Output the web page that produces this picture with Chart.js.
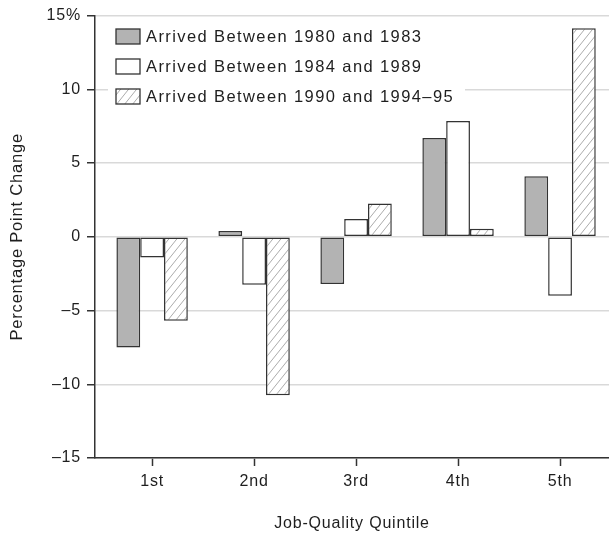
<!DOCTYPE html>
<html>
<head>
<meta charset="utf-8">
<script src="https://cdn.jsdelivr.net/npm/chart.js@4"></script>
<style>
  html, body { margin: 0; padding: 0; background: #fff; overflow: hidden; }
  #wrap { width: 609px; height: 536px; }
</style>
</head>
<body>
<div id="wrap"><canvas id="myChart" width="609" height="536"></canvas></div>
<script>
const categories = ['1st', '2nd', '3rd', '4th', '5th'];
const seriesNames = [
    'Arrived Between 1980 and 1983',
    'Arrived Between 1984 and 1989',
    'Arrived Between 1990 and 1994\u201395'
];
const arrived8083 = [-7.5, 0.4, -3.2, 6.7, 4.1];
const arrived8489 = [-1.4, -3.25, 1.2, 7.85, -4.0];
const arrived9095 = [-5.7, -10.75, 2.25, 0.55, 14.15];
const yTicks = [-15, -10, -5, 0, 5, 10, 15];

const FONT = '"Liberation Sans", Arial, sans-serif';
const INK = '#1e1e1e';
const SPACING = '0.8px';

// hatch pattern for the third series (steep "/" lines)
function makeHatch() {
    const w = 8, h = 10;
    const c = document.createElement('canvas');
    c.width = w; c.height = h;
    const g = c.getContext('2d');
    g.fillStyle = '#fff';
    g.fillRect(0, 0, w, h);
    g.strokeStyle = '#ababab';
    g.lineWidth = 1;
    g.beginPath();
    for (let k = -1; k <= 1; k++) {
        g.moveTo(k * w - 0.5 * w, h + 0.5 * h);
        g.lineTo(k * w + 1.5 * w, -0.5 * h);
    }
    g.stroke();
    return g.createPattern(c, 'repeat');
}

function points(arr) {
    return arr.map((v, i) => ({ x: i, y: v }));
}

const fills = ['#b3b3b3', '#ffffff', null];

// wider tracking like the original typeface
const tracking = {
    id: 'tracking',
    beforeLayout(chart) { chart.ctx.letterSpacing = SPACING; },
    beforeDraw(chart) { chart.ctx.letterSpacing = SPACING; }
};

const legendInside = {
    id: 'legendInside',
    afterDraw(chart) {
        const ctx = chart.ctx;
        ctx.save();
        ctx.fillStyle = '#fff';
        ctx.fillRect(108, 18, 357, 94);
        ctx.font = '16.5px ' + FONT;
        ctx.letterSpacing = '1.4px';
        ctx.textBaseline = 'middle';
        chart.data.datasets.forEach((ds, i) => {
            const y = 29 + i * 30;
            ctx.fillStyle = ds.backgroundColor;
            ctx.fillRect(116, y, 24, 15);
            ctx.strokeStyle = '#333';
            ctx.lineWidth = 1.3;
            ctx.strokeRect(116, y, 24, 15);
            ctx.fillStyle = INK;
            ctx.fillText(ds.label, 146, y + 8);
        });
        ctx.restore();
    }
};

document.addEventListener('DOMContentLoaded', function () {
    const ctx = document.getElementById('myChart');
    fills[2] = makeHatch();
    const seriesData = [arrived8083, arrived8489, arrived9095];

    new Chart(ctx, {
        type: 'bar',
        data: {
            datasets: seriesData.map((arr, i) => ({
                label: seriesNames[i],
                data: points(arr),
                backgroundColor: fills[i],
                borderColor: '#333',
                borderWidth: 1.5,
                borderSkipped: false,
                categoryPercentage: 0.7,
                barPercentage: 1.0
            }))
        },
        options: {
            responsive: false,
            animation: false,
            layout: { padding: { top: 15, right: 0, left: 0, bottom: 0 } },
            plugins: {
                legend: { display: false },
                tooltip: { enabled: false }
            },
            scales: {
                x: {
                    type: 'linear',
                    offset: false,
                    min: -0.56,
                    max: 4.48,
                    afterBuildTicks: (scale) => {
                        scale.ticks = categories.map((c, i) => ({ value: i }));
                    },
                    afterFit: (scale) => { scale.height = 78; },
                    ticks: {
                        callback: (v) => categories[v],
                        color: INK,
                        font: { family: FONT, size: 16 },
                        padding: 6,
                        maxRotation: 0
                    },
                    grid: {
                        offset: false,
                        drawOnChartArea: false,
                        drawTicks: true,
                        tickLength: 8,
                        tickColor: '#333',
                        tickWidth: 1.5
                    },
                    border: { color: '#333', width: 1.5 },
                    title: {
                        display: true,
                        text: 'Job-Quality Quintile',
                        color: INK,
                        font: { family: FONT, size: 16 },
                        padding: { top: 0, bottom: 3 }
                    }
                },
                y: {
                    min: -15,
                    max: 15,
                    afterBuildTicks: (scale) => {
                        scale.ticks = yTicks.map(v => ({ value: v }));
                    },
                    afterFit: (scale) => { scale.width = 95; },
                    ticks: {
                        callback: (v) => v === 15 ? '15%' : (v < 0 ? '\u2013' + Math.abs(v) : String(v)),
                        color: INK,
                        font: { family: FONT, size: 16 },
                        padding: 6
                    },
                    grid: {
                        color: '#d9d9d9',
                        lineWidth: 1.5,
                        tickLength: 8,
                        tickColor: '#333',
                        tickWidth: 1.5
                    },
                    border: { color: '#333', width: 1.5 },
                    title: {
                        display: true,
                        text: 'Percentage Point Change',
                        color: INK,
                        font: { family: FONT, size: 16.5 },
                        padding: { top: 8, bottom: 0 }
                    }
                }
            }
        },
        plugins: [tracking, legendInside]
    });
});
</script>
</body>
</html>
